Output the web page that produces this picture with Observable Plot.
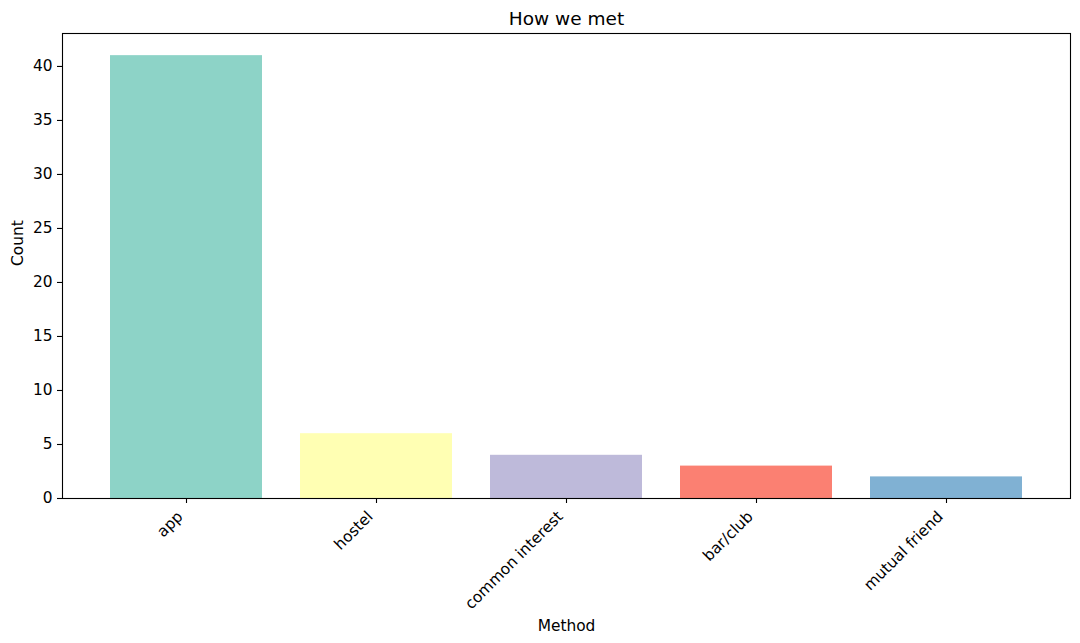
<!DOCTYPE html>
<html>
<head>
<meta charset="utf-8">
<script src="https://cdn.jsdelivr.net/npm/d3@7"></script>
<script src="https://cdn.jsdelivr.net/npm/@observablehq/plot@0.6"></script>
<style>
  html, body { margin: 0; padding: 0; background: #fff; }
  svg { font-family: "DejaVu Sans", sans-serif; }
</style>
</head>
<body>
<div id="chart"></div>
<script>
const methods = ["app", "hostel", "common interest", "bar/club", "mutual friend"];
const counts = [41, 6, 4, 3, 2];
const colors = ["#8dd3c7", "#ffffb3", "#bebada", "#fb8072", "#80b1d3"];
const yTicks = [0, 5, 10, 15, 20, 25, 30, 35, 40];

const data = methods.map((m, i) => ({method: m, count: counts[i]}));

const chart = Plot.plot({
  width: 1080,
  height: 643,
  marginLeft: 62,
  marginRight: 10,
  marginTop: 33,
  marginBottom: 145,
  style: {fontFamily: "DejaVu Sans, sans-serif", fontSize: "15.4px", color: "#000", background: "#fff", overflow: "visible"},
  x: {domain: methods, paddingInner: 0.2, paddingOuter: 0.2526, align: 0.5, label: null},
  y: {domain: [0, 43.05], label: null},
  color: {domain: methods, range: colors},
  marks: [
    Plot.barY(data, {x: "method", y: "count", fill: "method"}),
    Plot.frame({stroke: "#000", strokeWidth: 1.1}),
    Plot.axisY({ticks: yTicks, tickSize: 5, tickPadding: 5, fontSize: 15.4, stroke: "#000", strokeWidth: 1.1, label: null}),
    Plot.axisX({tickSize: 5, tickFormat: () => "", stroke: "#000", strokeWidth: 1.1, label: null}),
    Plot.text(methods, {x: d => d, frameAnchor: "bottom", dy: 15.5, dx: -6.2, rotate: -45, textAnchor: "end", lineAnchor: "middle", fontSize: 15.4, fill: "#000"}),
    Plot.text(["How we met"], {frameAnchor: "top", dy: -22, fontSize: 18.5, fill: "#000"}),
    Plot.text(["Method"], {frameAnchor: "bottom", dy: 132, fontSize: 15.4, fill: "#000"}),
    Plot.text(["Count"], {frameAnchor: "left", dx: -44, rotate: -90, fontSize: 15.4, fill: "#000"})
  ]
});
document.getElementById("chart").appendChild(chart);
</script>
</body>
</html>
